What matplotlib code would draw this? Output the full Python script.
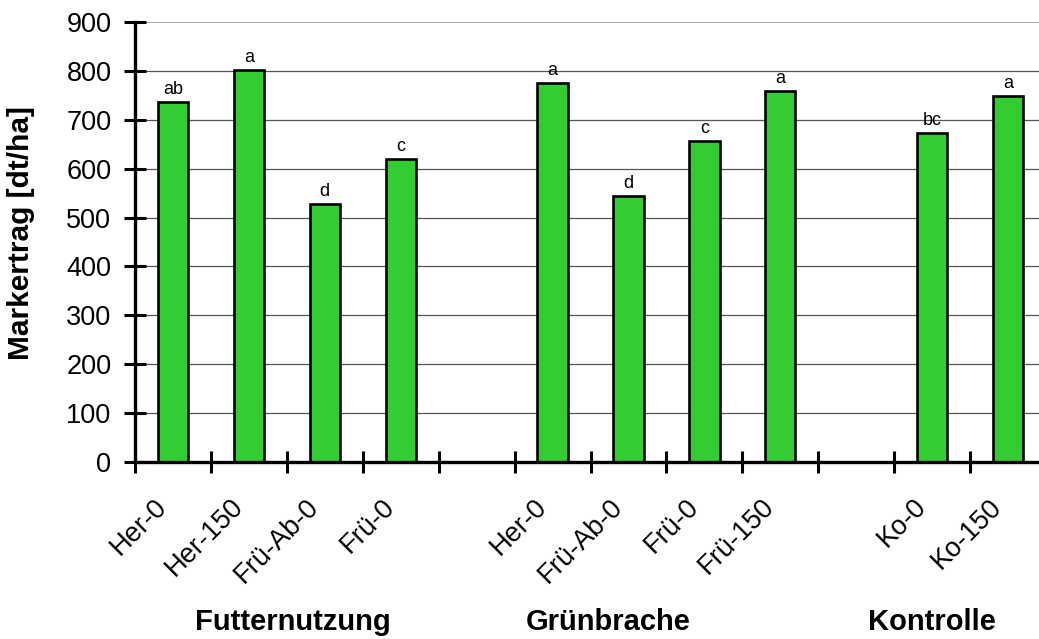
import numpy as np
import matplotlib
matplotlib.use("Agg")
import matplotlib.pyplot as plt
from matplotlib.transforms import ScaledTranslation

plt.rcParams["font.family"] = ["Liberation Sans", "DejaVu Sans"]

# empty strings / None mark the gaps between the treatment groups
labels = ["Her-0", "Her-150", "Frü-Ab-0", "Frü-0", "",
          "Her-0", "Frü-Ab-0", "Frü-0", "Frü-150", "",
          "Ko-0", "Ko-150"]
values = [736, 802, 528, 620, None,
          775, 544, 657, 759, None,
          672, 748]
letters = ["ab", "a", "d", "c", "",
           "a", "d", "c", "a", "",
           "bc", "a"]
groups = ["Futternutzung", "Grünbrache", "Kontrolle"]
group_pos = [1.58, 5.73, 10.0]

fig = plt.figure(figsize=(10.39, 6.39), dpi=100)
ax = fig.add_axes([135 / 1039, 1 - 462 / 639, 911 / 1039, 440 / 639])

x = np.arange(len(labels))
y = np.array([np.nan if v is None else v for v in values], dtype=float)
ax.bar(x, y, width=0.4, color="#33CC33", edgecolor="black", linewidth=1.9, zorder=3)

for xi, yi, lt in zip(x, y, letters):
    if lt:
        ax.annotate(lt, (xi, yi), xytext=(0, 3), textcoords="offset points",
                    ha="center", va="bottom", fontsize=13, zorder=4)

ax.set_xlim(-0.5, len(labels) - 0.5)
ax.set_ylim(0, 900)
ax.set_yticks(np.arange(0, 901, 100))
ax.set_xticks(np.arange(-0.5, len(labels), 1.0))
ax.set_xticklabels([])

for v in range(100, 900, 100):
    ax.axhline(v, color="#555555", linewidth=0.9, zorder=1)
ax.axhline(900, color="#999999", linewidth=1.2, zorder=1)

for s in ["top", "right"]:
    ax.spines[s].set_visible(False)
for s in ["left", "bottom"]:
    ax.spines[s].set_linewidth(2.4)
    ax.spines[s].set_zorder(5)

ax.tick_params(axis="both", direction="inout", length=16, width=2.2)
ax.tick_params(axis="y", labelsize=19.5, pad=9)

# rotated category labels under the bars
off = ScaledTranslation(-10 / 100, -41 / 100, fig.dpi_scale_trans)
for xi, lab in zip(x, labels):
    if lab:
        ax.text(xi, 0, lab, transform=ax.get_xaxis_transform() + off,
                rotation=45, rotation_mode="anchor", ha="right", va="center",
                fontsize=19.5)

for gp, g in zip(group_pos, groups):
    ax.text(gp, -0.364, g, transform=ax.get_xaxis_transform(),
            ha="center", va="center", fontsize=21, fontweight="bold")

ax.set_ylabel("Markertrag [dt/ha]", fontsize=21.5, fontweight="bold")
ax.yaxis.set_label_coords(-0.11, 0.52)

fig.savefig("out.png", dpi=100)
